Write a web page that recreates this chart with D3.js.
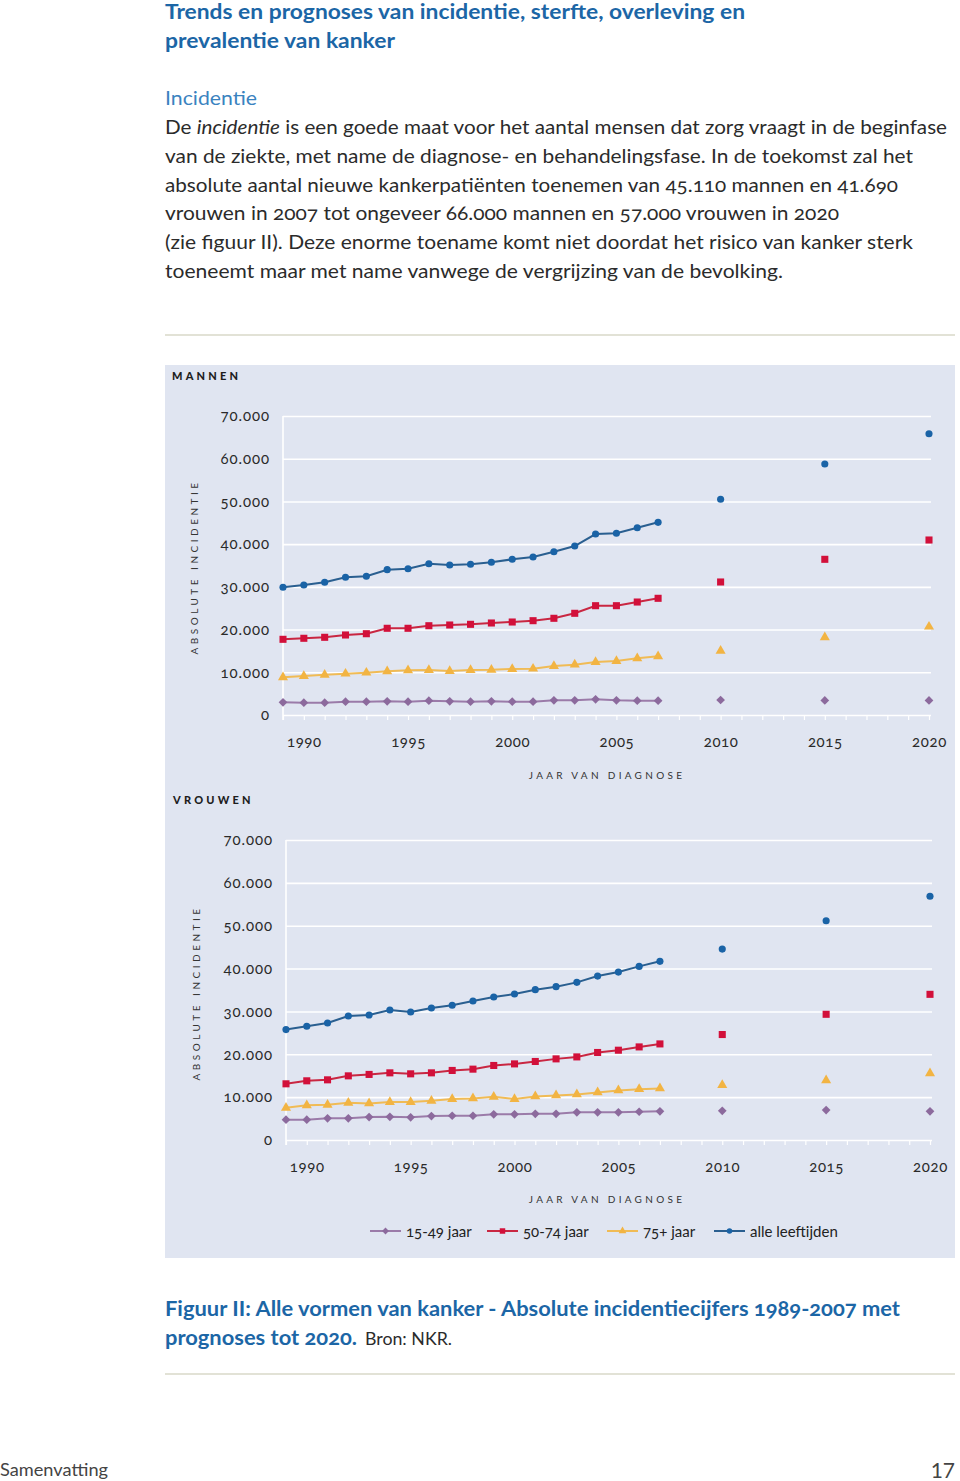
<!DOCTYPE html>
<html>
<head>
<meta charset="utf-8">
<script src="https://cdn.jsdelivr.net/npm/d3@7"></script>
<style>
  html, body { margin: 0; padding: 0; background: #ffffff; }
  svg { display: block; }
  text { font-family: Lato, "Open Sans", sans-serif; }
  .num { font-feature-settings: "onum" 1; font-variant-numeric: oldstyle-nums; }
</style>
</head>
<body>
<svg id="page" width="960" height="1481"></svg>
<script>
// ---------------- DATA ----------------
const years = [1989, 1990, 1991, 1992, 1993, 1994, 1995, 1996, 1997, 1998, 1999, 2000, 2001, 2002, 2003, 2004, 2005, 2006, 2007];
const projYears = [2010, 2015, 2020];

const menAll   = [29900, 30430, 31070, 32240, 32470, 34020, 34250, 35420, 35120, 35280, 35750, 36450, 36990, 38230, 39560, 42370, 42540, 43850, 45110];
const menMid   = [17720, 17960, 18190, 18730, 19030, 20300, 20300, 20900, 21070, 21230, 21540, 21770, 22080, 22640, 23810, 25590, 25590, 26450, 27320];
const menOld   = [8830, 9130, 9430, 9670, 9900, 10230, 10460, 10540, 10300, 10540, 10600, 10770, 10840, 11470, 11780, 12410, 12640, 13270, 13740];
const menYoung = [2970, 2880, 2880, 3110, 3110, 3210, 3110, 3350, 3210, 3110, 3210, 3110, 3110, 3440, 3440, 3680, 3440, 3350, 3350];
const menAllProj   = [50500, 58760, 65850];
const menMidProj   = [31140, 36450, 40970];
const menOldProj   = [15000, 18190, 20670];
const menYoungProj = [3510, 3400, 3400];

const womenAll   = [25770, 26540, 27310, 28940, 29170, 30330, 29870, 30800, 31430, 32430, 33360, 34060, 35080, 35780, 36780, 38250, 39180, 40510, 41690];
const womenMid   = [13110, 13810, 14040, 14970, 15300, 15670, 15440, 15670, 16230, 16530, 17390, 17760, 18320, 18930, 19390, 20420, 20950, 21720, 22420];
const womenOld   = [7520, 8080, 8220, 8680, 8540, 8850, 8850, 9150, 9550, 9710, 10080, 9550, 10170, 10410, 10640, 11110, 11570, 11870, 12040];
const womenYoung = [4730, 4730, 5050, 5050, 5350, 5420, 5290, 5590, 5660, 5660, 5980, 5980, 6120, 6120, 6450, 6450, 6450, 6590, 6680];
const womenAllProj   = [44540, 51150, 56870];
const womenMidProj   = [24610, 29330, 33990];
const womenOldProj   = [12800, 13900, 15530];
const womenYoungProj = [6820, 6980, 6680];

const seriesNames = ["15-49 jaar", "50-74 jaar", "75+ jaar", "alle leeftijden"];
const yTickValues = [0, 10000, 20000, 30000, 40000, 50000, 60000, 70000];
const xLabelValues = [1990, 1995, 2000, 2005, 2010, 2015, 2020];
const allTickYears = d3.range(1989, 2021);

// ---------------- STYLE ----------------
const lineColors   = ["#9b7ba9", "#c92742", "#f0bb55", "#2a5f90"];
const markerColors = ["#8c6a9d", "#d2103a", "#f2b443", "#1a63a6"];
const symbols = [d3.symbolSquare, d3.symbolSquare, d3.symbolTriangle, d3.symbolCircle];
const symRot = [45, 0, 0, 0];
const symSizes = [38, 50, 44, 40];
const titleBlue = "#1c66a6";
const textDark = "#2b2b2b";

const svg = d3.select("#page");

// ---------------- PAGE TEXT ----------------
function tline(x, y, str, opts) {
  const t = svg.append("text").attr("x", x).attr("y", y).text(str)
    .attr("font-size", opts.size).attr("fill", opts.fill || textDark)
    .attr("font-weight", opts.weight || "normal");
  if (opts.len) t.attr("textLength", opts.len).attr("lengthAdjust", "spacingAndGlyphs");
  if (opts.cls) t.attr("class", opts.cls);
  return t;
}

tline(165, 19, "Trends en prognoses van incidentie, sterfte, overleving en", {size: 20, weight: "bold", fill: titleBlue, len: 580});
tline(165, 48, "prevalentie van kanker", {size: 20, weight: "bold", fill: titleBlue, len: 230});
tline(165, 105, "Incidentie", {size: 19, fill: "#3a83bf", len: 92});

const bodyY = [134, 163, 192, 220, 249, 278];
const l1 = tline(165, bodyY[0], "", {size: 19, len: 782, cls: "num"});
l1.append("tspan").text("De ");
l1.append("tspan").attr("font-style", "italic").text("incidentie");
l1.append("tspan").text(" is een goede maat voor het aantal mensen dat zorg vraagt in de beginfase");
tline(165, bodyY[1], "van de ziekte, met name de diagnose- en behandelingsfase. In de toekomst zal het", {size: 19, len: 748, cls: "num"});
tline(165, bodyY[2], "absolute aantal nieuwe kankerpatiënten toenemen van 45.110 mannen en 41.690", {size: 19, len: 733, cls: "num"});
tline(165, bodyY[3], "vrouwen in 2007 tot ongeveer 66.000 mannen en 57.000 vrouwen in 2020", {size: 19, len: 674, cls: "num"});
tline(165, bodyY[4], "(zie figuur II). Deze enorme toename komt niet doordat het risico van kanker sterk", {size: 19, len: 748, cls: "num"});
tline(165, bodyY[5], "toeneemt maar met name vanwege de vergrijzing van de bevolking.", {size: 19, len: 618, cls: "num"});

svg.append("line").attr("x1", 165).attr("x2", 955).attr("y1", 335).attr("y2", 335)
  .attr("stroke", "#d9d9c9").attr("stroke-width", 1.5);

// panel background
svg.append("rect").attr("x", 165).attr("y", 365).attr("width", 790).attr("height", 893)
  .attr("fill", "#e0e5f1");

// ---------------- CHART PANELS ----------------
function drawPanel(cfg) {
  const x = d3.scaleLinear().domain([1989, 2020]).range([cfg.x0, cfg.x1]);
  const y = d3.scaleLinear().domain([0, 70000]).range([cfg.y0, cfg.y1]);
  const g = svg.append("g");

  g.append("text").attr("x", cfg.labelX).attr("y", cfg.labelY).text(cfg.label)
    .attr("font-size", 11).attr("font-weight", "900").attr("letter-spacing", 3.2)
    .attr("fill", "#1e1e1e");

  const yAxis = d3.axisLeft(y).tickValues(yTickValues)
    .tickSize(-(cfg.x1 - cfg.x0 + 2)).tickPadding(13)
    .tickFormat(d => d3.format(",")(d).replace(/,/g, "."));
  const ya = g.append("g").attr("transform", `translate(${cfg.x0},0)`).call(yAxis);
  ya.select(".domain").remove();
  ya.selectAll(".tick line").attr("stroke", "#ffffff").attr("stroke-width", 1.6);
  ya.selectAll(".tick text").attr("font-size", 15).attr("fill", "#2a2a2a")
    .attr("letter-spacing", 0.9).attr("class", "num").attr("font-family", "Lato, sans-serif");

  g.append("line").attr("x1", cfg.x0).attr("x2", cfg.x0).attr("y1", cfg.y1).attr("y2", cfg.y0 + 5)
    .attr("stroke", "#ffffff").attr("stroke-width", 1.6);

  const xTicks = d3.axisBottom(x).tickValues(allTickYears).tickSize(5).tickFormat("");
  const xt = g.append("g").attr("transform", `translate(0,${cfg.y0})`).call(xTicks);
  xt.select(".domain").remove();
  xt.selectAll(".tick line").attr("stroke", "#ffffff").attr("stroke-width", 1.2);

  const xLab = d3.axisBottom(x).tickValues(xLabelValues).tickSize(0).tickPadding(21).tickFormat(d3.format("d"));
  const xl = g.append("g").attr("transform", `translate(0,${cfg.y0})`).call(xLab);
  xl.select(".domain").remove();
  xl.selectAll(".tick text").attr("font-size", 15).attr("fill", "#2a2a2a")
    .attr("letter-spacing", 0.6).attr("class", "num").attr("font-family", "Lato, sans-serif");

  g.append("text").attr("transform", `translate(${cfg.yTitleX},${cfg.yTitleY}) rotate(-90)`)
    .attr("text-anchor", "middle").text("ABSOLUTE INCIDENTIE")
    .attr("font-size", 10).attr("letter-spacing", 3.5).attr("fill", "#333");
  g.append("text").attr("x", 607).attr("y", cfg.xTitleY).attr("text-anchor", "middle")
    .text("JAAR VAN DIAGNOSE").attr("font-size", 10).attr("letter-spacing", 3.3).attr("fill", "#333");

  const line = d3.line().x(d => x(d[0])).y(d => y(d[1]));
  cfg.series.forEach((vals, i) => {
    const pts = years.map((yr, k) => [yr, vals[k]]);
    g.append("path").datum(pts).attr("d", line).attr("fill", "none")
      .attr("stroke", lineColors[i]).attr("stroke-width", 2);
    const proj = projYears.map((yr, k) => [yr, cfg.proj[i][k]]);
    const sym = d3.symbol().type(symbols[i]).size(symSizes[i]);
    g.selectAll(null).data(pts.concat(proj)).enter().append("path")
      .attr("d", sym).attr("fill", markerColors[i])
      .attr("transform", d => `translate(${x(d[0])},${y(d[1])}) rotate(${symRot[i]})`);
  });
}

drawPanel({
  label: "MANNEN", labelX: 172, labelY: 380,
  x0: 283, x1: 929, y0: 715, y1: 416,
  yTitleX: 198, yTitleY: 567, xTitleY: 779,
  series: [menYoung, menMid, menOld, menAll],
  proj: [menYoungProj, menMidProj, menOldProj, menAllProj]
});

drawPanel({
  label: "VROUWEN", labelX: 173, labelY: 804,
  x0: 286, x1: 930, y0: 1140, y1: 840,
  yTitleX: 200, yTitleY: 993, xTitleY: 1203,
  series: [womenYoung, womenMid, womenOld, womenAll],
  proj: [womenYoungProj, womenMidProj, womenOldProj, womenAllProj]
});

// ---------------- LEGEND ----------------
const legendX = [370, 487, 607, 714];
const lg = svg.append("g");
seriesNames.forEach((name, i) => {
  const lx = legendX[i];
  lg.append("line").attr("x1", lx).attr("x2", lx + 31).attr("y1", 1231).attr("y2", 1231)
    .attr("stroke", lineColors[i]).attr("stroke-width", 2);
  lg.append("path").attr("d", d3.symbol().type(symbols[i]).size(symSizes[i] * 0.6)())
    .attr("fill", markerColors[i]).attr("transform", `translate(${lx + 15.5},1231) rotate(${symRot[i]})`);
  lg.append("text").attr("x", lx + 36).attr("y", 1236.5).text(name)
    .attr("font-size", 15).attr("fill", "#222").attr("class", "num");
});

// ---------------- CAPTION & FOOTER ----------------
tline(165, 1316, "Figuur II: Alle vormen van kanker - Absolute incidentiecijfers 1989-2007 met", {size: 20, weight: "bold", fill: titleBlue, len: 735, cls: "num"});
tline(165, 1345, "prognoses tot 2020.", {size: 20, weight: "bold", fill: titleBlue, len: 192, cls: "num"});
tline(365, 1345, "Bron: NKR.", {size: 17, fill: textDark, len: 87});

svg.append("line").attr("x1", 165).attr("x2", 955).attr("y1", 1374).attr("y2", 1374)
  .attr("stroke", "#d9d9c9").attr("stroke-width", 1.5);

tline(0, 1476, "Samenvatting", {size: 18, fill: "#444", len: 108});
svg.append("text").attr("x", 955).attr("y", 1478).attr("text-anchor", "end").text("17")
  .attr("font-size", 21).attr("fill", "#444");
</script>
</body>
</html>
